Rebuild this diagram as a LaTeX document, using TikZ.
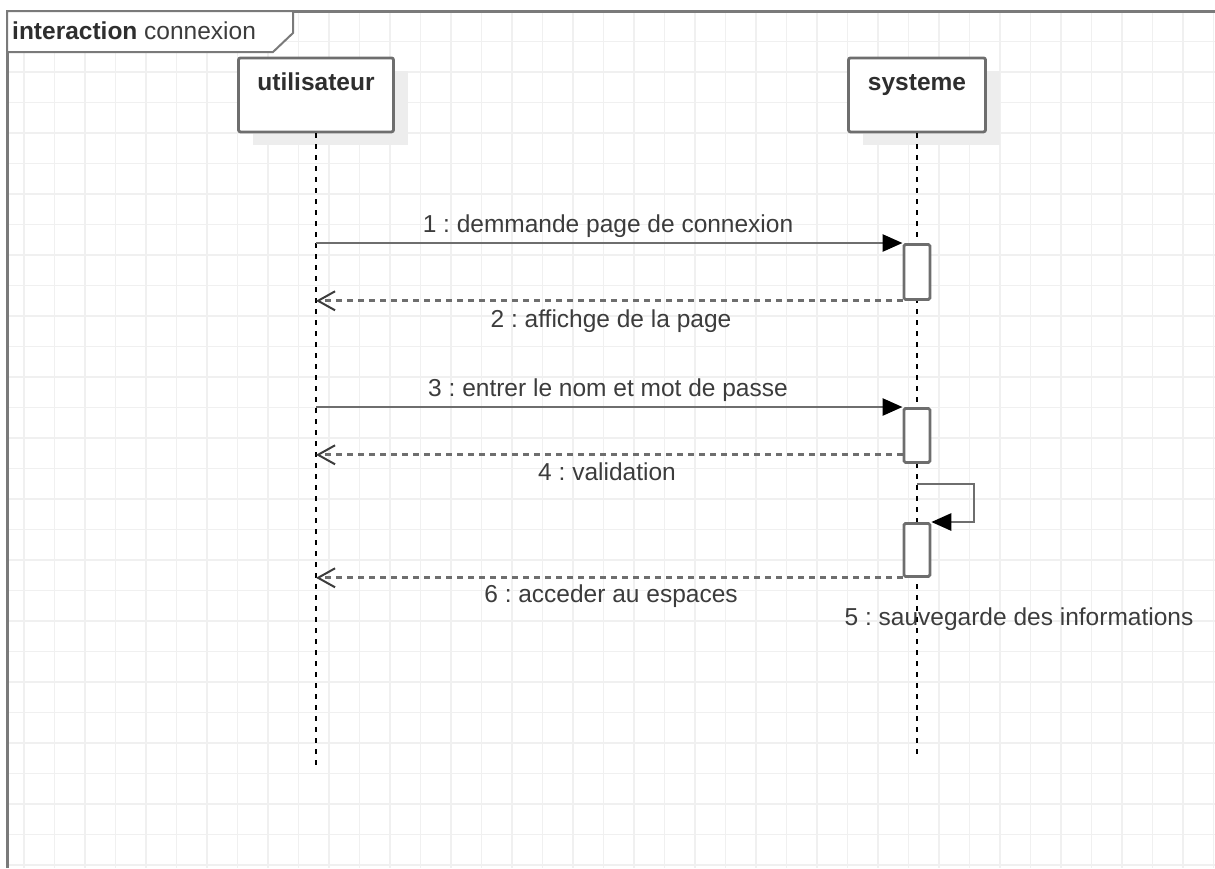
\documentclass[tikz,border=0pt]{standalone}
\usepackage{fontspec}
\setmainfont{Liberation Sans}
\usetikzlibrary{arrows.meta}
\frenchspacing

\definecolor{gridc}{HTML}{F0F0F0}
\definecolor{strokec}{HTML}{6E6E6E}
\definecolor{framec}{HTML}{7A7A7A}
\definecolor{shadowc}{HTML}{EDEDED}
\definecolor{textc}{HTML}{3C3C3C}
\definecolor{headc}{HTML}{2E2E2E}

\tikzset{
  gridline/.style={draw=gridc, line width=1.5pt},
  framestroke/.style={draw=framec, line width=3pt},
  tabstroke/.style={draw=framec, line width=2pt, fill=white, line join=miter},
  lifebox/.style={draw=strokec, fill=white, line width=2.8pt, rounded corners=2pt,
    inner sep=0pt, text height=32.5pt, text depth=41.5pt, anchor=north,
    font=\fontsize{24.5}{29}\selectfont\bfseries, text=headc},
  boxshadow/.style={fill=shadowc, draw=none},
  lifeline/.style={draw=black, line width=2pt, dash pattern=on 5pt off 6pt},
  actbar/.style={draw=strokec, fill=white, line width=2.8pt, rounded corners=1.5pt,
    inner sep=0pt, minimum width=26pt, anchor=north west},
  msg/.style={draw=strokec, line width=2.8pt,
    -{Triangle[length=20pt,width=17pt,color=black,fill=black]}},
  ret/.style={draw=strokec, line width=2.8pt, dash pattern=on 6pt off 5pt,
    -{Straight Barb[length=17pt,width=19pt,line width=2pt,color=textc]}},
  msglabel/.style={anchor=base, inner sep=0pt, text=textc,
    font=\fontsize{24.5}{29}\selectfont},
}

\begin{document}
\begin{tikzpicture}[x=1pt, y=-1pt]
\useasboundingbox (0,0) rectangle (1215,868);

% background grid inside the frame
\begin{scope}
  \clip (7,11) rectangle (1215,868);
  \foreach \k in {0,...,39} \draw[gridline] ({24+30.5*\k},11) -- ({24+30.5*\k},868);
  \foreach \k in {0,...,28} \draw[gridline] (7,{11+30.5*\k}) -- (1215,{11+30.5*\k});
\end{scope}

% interaction frame and its name tab
\draw[framestroke] (7,868) -- (7,11) -- (1215,11);
\draw[tabstroke] (7,11) -- (293,11) -- (293,33) -- (273,52) -- (7,52) -- cycle;
\node[anchor=base west, inner sep=0pt, font=\fontsize{24.5}{29}\selectfont] (title)
  at (12,39) {\textcolor{headc}{\bfseries interaction} \textcolor{textc}{connexion}};

% participant shadows
\fill[boxshadow] (252.5,70.5) rectangle (407.5,144.5);
\fill[boxshadow] (862.5,70.5) rectangle (999.5,144.5);

% participants
\node[lifebox, minimum width=155pt] (u) at (316,56.5) {utilisateur};
\node[lifebox, minimum width=137pt] (s) at (917,56.5) {systeme};

% lifelines
\coordinate (uend) at (316,767);
\coordinate (send) at (917,757);
\draw[lifeline] (u.south) -- (uend);
\draw[lifeline] (s.south) -- (send);

% activation bars
\node[actbar, minimum height=55pt] (a1) at (902.5,243) {};
\node[actbar, minimum height=54pt] (a2) at (902.5,407) {};
\node[actbar, minimum height=53pt] (a3) at (902.5,522) {};

% messages
\draw[msg] (u.south |- a1.north west) -- (a1.north west);
\draw[ret] (a1.south west) -- (u.south |- a1.south west);
\draw[msg] (u.south |- a2.north west) -- (a2.north west);
\coordinate (r4) at ([yshift=9pt]a2.south west);
\draw[ret] (r4) -- (u.south |- r4);
\coordinate (selfout) at (974,484);
\draw[msg] (s.south |- selfout) -- (selfout) |- (a3.north east);
\draw[ret] (a3.south west) -- (u.south |- a3.south west);

% message labels
\node[msglabel] (l1) at (608,232) {1 : demmande page de connexion};
\node[msglabel] (l2) at (611,327) {2 : affichge de la page};
\node[msglabel] (l3) at (608,396) {3 : entrer le nom et mot de passe};
\node[msglabel] (l4) at (607,480) {4 : validation};
\node[msglabel] (l5) at (1019,625) {5 : sauvegarde des informations};
\node[msglabel] (l6) at (611,602) {6 : acceder au espaces};
\end{tikzpicture}
\end{document}
